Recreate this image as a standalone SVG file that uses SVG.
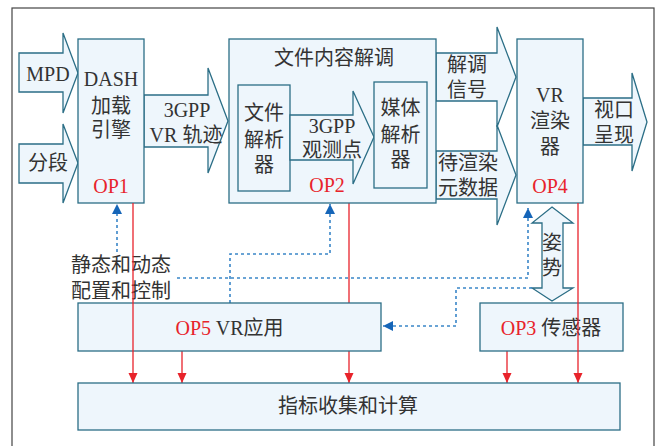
<svg xmlns="http://www.w3.org/2000/svg" width="657" height="446" viewBox="0 0 657 446">
<defs>
<style>
.box{fill:#eef6fc;stroke:#2b6e86;stroke-width:1.3}
.arr{fill:#eef6fc;stroke:#2b6e86;stroke-width:1.3;stroke-linejoin:miter}
.t{font-family:"Liberation Serif","Noto Sans CJK SC",serif;font-size:20px;fill:#333;text-anchor:middle}
.tl{font-family:"Liberation Serif","Noto Sans CJK SC",serif;font-size:20px;fill:#333}
.op{fill:#e8232b}
.red{stroke:#e8232b;stroke-width:1.3;fill:none}
.blue{stroke:#3a86c8;stroke-width:1.6;fill:none;stroke-dasharray:3 3}
</style>
<marker id="ah-red" markerUnits="userSpaceOnUse" markerWidth="10" markerHeight="10" refX="10" refY="5" orient="auto">
<path d="M0,0.5 L10,5 L0,9.5 z" fill="#e8232b"/>
</marker>
<marker id="ah-blue" markerUnits="userSpaceOnUse" markerWidth="11" markerHeight="11" refX="10" refY="5.5" orient="auto">
<path d="M0,0.5 L10,5.5 L0,10.5 z" fill="#1565b8"/>
</marker>
</defs>
<rect x="0" y="0" width="657" height="446" fill="#fff"/>
<rect x="12" y="8" width="642" height="450" fill="none" stroke="#444" stroke-width="1.2"/>

<g id="connectors">
<polygon class="arr" points="19,53 63,53 63,33 78,73 63,113 63,92 19,92"/>
<polygon class="arr" points="19,144 63,144 63,124 78,163 63,203 63,183 19,183"/>
<polygon class="arr" points="144,95 208,95 208,68 228,121 208,173 208,147 144,147"/>
<polygon class="arr" points="436,151 497,151 497,125 516,175 497,225 497,199 436,199"/>
<polygon class="arr" points="436,53 497,53 497,27 516,77 497,127 497,101 436,101"/>
<polygon class="arr" points="583,98 632,98 632,73 647,122 632,171 632,145 583,145"/>
<polygon class="arr" points="552,207 573,223 563,223 563,288 573,288 552,301 532,288 542,288 542,223 532,223"/>
<path class="red" d="M349,203 V303"/>
<path class="red" d="M349,351 V383" marker-end="url(#ah-red)"/>
<path class="red" d="M182,351 V383" marker-end="url(#ah-red)"/>
<path class="red" d="M507,351 V383" marker-end="url(#ah-red)"/>
<path class="blue" d="M117,252 V204" marker-end="url(#ah-blue)"/>
<path class="blue" d="M177,278 H528 V208" marker-end="url(#ah-blue)"/>
<path class="blue" d="M230,303 V254 H330 V204" marker-end="url(#ah-blue)"/>
<path class="blue" d="M532,288 H456 V326 H383" marker-end="url(#ah-blue)"/>
</g>

<g id="labels-arrows">
<text class="t" x="48" y="81">MPD</text>
<text class="t" x="48" y="170">分段</text>
<text class="t" x="187" y="117">3GPP</text>
<text class="t" x="186" y="142">VR 轨迹</text>
<text class="t" x="467" y="72">解调</text>
<text class="t" x="467" y="97">信号</text>
<text class="t" x="468" y="170">待渲染</text>
<text class="t" x="468" y="195">元数据</text>
<text class="t" x="614" y="117">视口</text>
<text class="t" x="614" y="142">呈现</text>
<text class="t" x="552" y="250">姿</text>
<text class="t" x="552" y="275">势</text>
<text class="tl" x="71" y="272">静态和动态</text>
<text class="tl" x="71" y="298">配置和控制</text>
</g>

<g id="dash">
<rect class="box" x="78" y="39" width="66" height="164"/>
<text class="t" x="111" y="86">DASH</text>
<text class="t" x="111" y="113">加载</text>
<text class="t" x="111" y="137">引擎</text>
<text class="t op" x="111" y="193">OP1</text>
</g>

<g id="demod">
<rect class="box" x="229" y="39" width="207" height="164"/>
<text class="t" x="334" y="65">文件内容解调</text>
<text class="t op" x="327" y="192">OP2</text>
</g>

<g id="file-parser">
<rect class="box" x="238" y="85" width="52" height="106"/>
<text class="t" x="264" y="120">文件</text>
<text class="t" x="264" y="147">解析</text>
<text class="t" x="264" y="172">器</text>
</g>

<g id="viewpoint">
<polygon class="arr" points="290,115 353,115 353,91 374,137 353,184 353,160 290,160"/>
<text class="t" x="332" y="133">3GPP</text>
<text class="t" x="332" y="157">观测点</text>
</g>

<g id="media-parser">
<rect class="box" x="374" y="82" width="53" height="106"/>
<text class="t" x="400.5" y="115">媒体</text>
<text class="t" x="400.5" y="142">解析</text>
<text class="t" x="400.5" y="167">器</text>
</g>

<g id="renderer">
<rect class="box" x="517" y="39" width="66" height="164"/>
<text class="t" x="550" y="102">VR</text>
<text class="t" x="550" y="128">渲染</text>
<text class="t" x="550" y="154">器</text>
<text class="t op" x="550" y="193">OP4</text>
</g>

<g id="vr-app">
<rect class="box" x="78" y="303" width="303" height="48"/>
<text class="t" x="229.5" y="335"><tspan class="op">OP5</tspan> VR应用</text>
</g>

<g id="sensor">
<rect class="box" x="480" y="303" width="143" height="48"/>
<text class="t" x="551" y="335"><tspan class="op">OP3</tspan> 传感器</text>
</g>

<g id="through-lines">
<path class="red" d="M133,203 V383" marker-end="url(#ah-red)"/>
<path class="red" d="M578,203 V383" marker-end="url(#ah-red)"/>
</g>

<g id="metrics">
<rect class="box" x="78" y="383" width="542" height="47"/>
<text class="t" x="348" y="413">指标收集和计算</text>
</g>
</svg>
